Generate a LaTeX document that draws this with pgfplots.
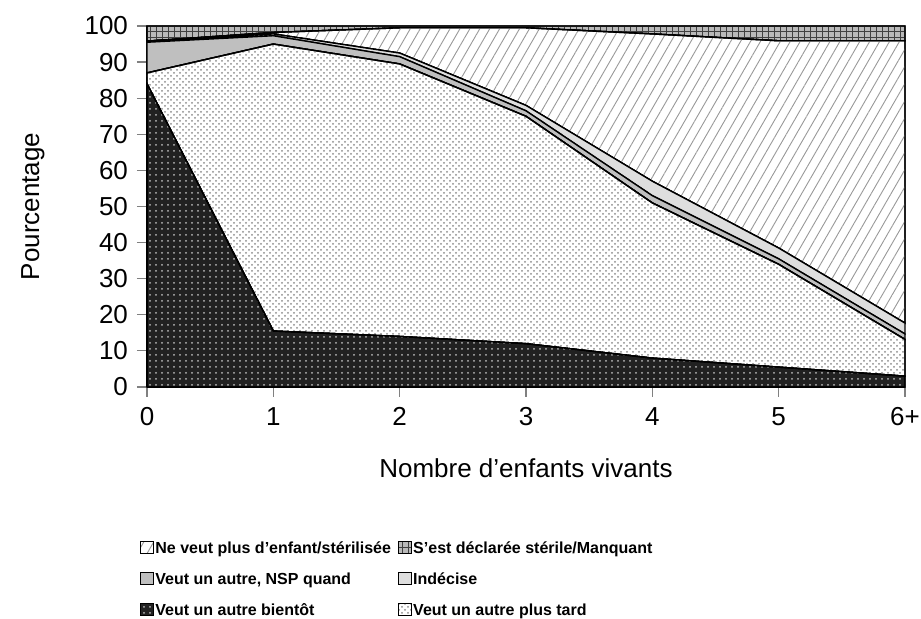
\documentclass[border=0pt]{standalone}
\usepackage{fontspec}
\setmainfont{Liberation Sans}
\usepackage{pgfplots}
\usepackage{pgfplotstable}
\pgfplotsset{compat=1.18}
\usetikzlibrary{patterns,patterns.meta}

% parts (%) par nombre d'enfants vivants, de bas en haut
\pgfplotstableread{
x bientot plustard nsp indecise neveutplus sterile
0 84   3    8.5 0.3 0    4.2
1 15.5 79.5 2.3 0.5 0.4  1.8
2 14   75.5 2   1   7    0.5
3 12   63   1.5 1.5 21.5 0.5
4 8    43   2   4   40.8 2.2
5 5.5  28.5 1.5 3   57.4 4.1
6 3    10.2 1.5 3   78.2 4.1
}\data

\tikzset{
  sBientot/.style={fill=black!87, postaction={pattern=dots, pattern color=gray!55}},
  sPlusTard/.style={fill=white, postaction={pattern=crosshatch dots, pattern color=gray!90}},
  sNSP/.style={fill=black!25},
  sIndecise/.style={fill=black!13},
  sNeVeutPlus/.style={fill=white, postaction={pattern={Lines[angle=60, distance=4.3pt, line width=0.45pt]}, pattern color=gray!80}},
  sSterile/.style={fill=gray!55, postaction={pattern=grid, pattern color=black!75}},
}

\begin{document}
\fontsize{13}{15}\selectfont
\begin{tikzpicture}
\path[use as bounding box] (-73.5pt,-116pt) rectangle (387pt,193.5pt);
\begin{axis}[
    at={(0,0)}, anchor=south west,
    scale only axis,
    width=379pt, height=180.5pt,
    xmin=0, xmax=6, ymin=0, ymax=100,
    axis lines=left,
    axis line style={-, black, line width=0.6pt},
    clip=false,
    stack plots=y,
    xtick={0,...,6},
    xticklabels={0,1,2,3,4,5,6+},
    ytick={0,10,...,100},
    tick align=outside,
    major tick length=5pt,
    tick style={gray, line width=0.6pt},
    tick label style={font=\fontsize{13}{15}\selectfont},
    xticklabel style={text height=9.5pt, text depth=0pt},
    /pgf/number format/assume math mode=true,
    label style={font=\fontsize{12.5}{15}\selectfont},
    every axis y label/.style={at={(axis description cs:0,0.5)}, xshift=-57pt, rotate=90, anchor=center},
    every axis x label/.style={at={(axis description cs:0.5,0)}, yshift=-40.5pt, anchor=center},
    xlabel={Nombre d'enfants vivants},
    ylabel={Pourcentage},
    legend columns=2,
    legend cell align=left,
    legend image code/.code={\draw[#1, line width=0.4pt] (0pt,-2.5pt) rectangle (6.5pt,3.5pt);},
    legend style={
        at={(axis description cs:-0.0092,-0.418)}, anchor=north west,
        draw=none, fill=none, inner sep=0pt,
        font=\bfseries\fontsize{8}{10}\selectfont,
        nodes={inner sep=0.6pt, text height=7pt, text depth=2pt},
        row sep=5.3pt,
        /tikz/column 2/.style={column sep=3pt},
    },
]

\addplot[forget plot, draw=black, line width=0.7pt, sBientot]    table[x=x, y=bientot]    {\data} \closedcycle;
\addplot[forget plot, draw=black, line width=0.7pt, sPlusTard]   table[x=x, y=plustard]   {\data} \closedcycle;
\addplot[forget plot, draw=black, line width=0.7pt, sNSP]        table[x=x, y=nsp]        {\data} \closedcycle;
\addplot[forget plot, draw=black, line width=0.7pt, sIndecise]   table[x=x, y=indecise]   {\data} \closedcycle;
\addplot[forget plot, draw=black, line width=0.7pt, sNeVeutPlus] table[x=x, y=neveutplus] {\data} \closedcycle;
\addplot[forget plot, draw=black, line width=0.7pt, sSterile]    table[x=x, y=sterile]    {\data} \closedcycle;

% legende dans l'ordre de l'original
\addlegendimage{draw=black, sNeVeutPlus}
\addlegendentry{Ne veut plus d'enfant/stérilisée}
\addlegendimage{draw=black, sSterile}
\addlegendentry{S'est déclarée stérile/Manquant}
\addlegendimage{draw=black, sNSP}
\addlegendentry{Veut un autre, NSP quand}
\addlegendimage{draw=black, sIndecise}
\addlegendentry{Indécise}
\addlegendimage{draw=black, sBientot}
\addlegendentry{Veut un autre bientôt}
\addlegendimage{draw=black, sPlusTard}
\addlegendentry{Veut un autre plus tard}

\end{axis}
\end{tikzpicture}
\end{document}
